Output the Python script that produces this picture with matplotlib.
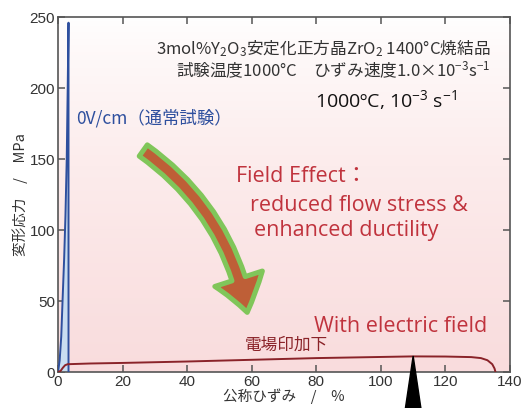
import numpy as np
import matplotlib
matplotlib.use("Agg")
import matplotlib.pyplot as plt
from matplotlib.colors import LinearSegmentedColormap
from matplotlib.patches import FancyArrowPatch, Polygon

# 0 V/cm (normal test): strain %, stress MPa
strain_0v = [0.0, 0.5, 1.0, 1.4, 1.9, 2.3, 2.7, 3.0, 3.25, 3.25]
stress_0v = [0, 8, 25, 50, 80, 110, 150, 200, 246, 0]

# with electric field
strain_ef = [0.0, 0.8, 1.5, 2.2, 3.0, 10, 20, 40, 60, 80, 100, 110, 120, 128, 131, 133, 134.5, 135.2, 135.5]
stress_ef = [0.0, 0.8, 3.0, 4.8, 5.5, 6.0, 6.4, 7.4, 8.6, 9.8, 10.6, 11.0, 10.9, 10.5, 9.8, 8.3, 5.5, 2.5, 0.0]

xticks = [0, 20, 40, 60, 80, 100, 120, 140]
yticks = [0, 50, 100, 150, 200, 250]

jp = ["Noto Sans CJK JP", "DejaVu Sans"]
latin = ["Open Sans", "Noto Sans CJK JP", "DejaVu Sans"]
tickfont = "Liberation Sans"

fig = plt.figure(figsize=(5.26, 4.08), dpi=100)
ax = fig.add_axes([0.1103, 0.0882, 0.8593, 0.8701])

# pink background gradient, white at top
cmap = LinearSegmentedColormap.from_list("bg", ["#ffffff", "#fcecec", "#f9dcdd"])
grad = np.linspace(0, 1, 256).reshape(-1, 1) ** 0.8
ax.imshow(grad, extent=[0, 140, 0, 250], aspect="auto", cmap=cmap, zorder=0,
          origin="upper")
ax.set_xlim(0, 140)
ax.set_ylim(0, 250)

# curves
ax.fill(strain_0v, stress_0v, color="#c9ddf1", zorder=2, lw=0)
ax.plot(strain_0v, stress_0v, color="#2e4f9e", lw=1.4, zorder=3)
ax.plot(strain_ef, stress_ef, color="#8a2329", lw=1.4, zorder=3)

# axes style
for s in ax.spines.values():
    s.set_color("#555555")
    s.set_linewidth(1.2)
ax.set_xticks(xticks)
ax.set_yticks(yticks)
ax.tick_params(direction="in", length=5, width=1.1, color="#555555",
               top=True, right=True, labelsize=11, labelcolor="#333333", pad=2)
for lab in ax.get_xticklabels() + ax.get_yticklabels():
    lab.set_family(tickfont)

ax.set_xlabel("公称ひずみ　/　%", family=jp, fontsize=10.5, color="#333333", labelpad=0)
ax.set_ylabel("変形応力　/　MPa", family=jp, fontsize=10.5, color="#333333", labelpad=1)

# annotations
ax.text(134, 228, r"3mol%$\mathregular{Y_2O_3}$安定化正方晶$\mathregular{ZrO_2}$ 1400°C焼結品",
        family=jp, fontsize=12, color="#333333", ha="right", va="center")
ax.text(134, 212.5, r"試験温度1000°C　ひずみ速度1.0×10$\mathregular{^{-3}}$s$\mathregular{^{-1}}$",
        family=jp, fontsize=12, color="#333333", ha="right", va="center")
ax.text(79.5, 191.5, r"1000ºC, 10$\mathregular{^{-3}}$ s$\mathregular{^{-1}}$",
        family=latin, fontsize=14, color="#111111", ha="left", va="center")
ax.text(5.6, 179, "0V/cm（通常試験）", family=jp, fontsize=12.5, color="#2e4f9e",
        ha="left", va="center")

red = "#c0333d"
ax.text(55.2, 138, "Field Effect：", family=latin, fontsize=15.5, color=red, va="center")
ax.text(59.5, 117.6, "reduced flow stress &", family=latin, fontsize=15.5, color=red, va="center")
ax.text(60.8, 100, "enhanced ductility", family=latin, fontsize=15.5, color=red, va="center")
ax.text(79.4, 32.4, "With electric field", family=latin, fontsize=15.5, color=red, va="center")
ax.text(57.7, 19, "電場印加下", family=jp, fontsize=12, color="#8a2329", va="center")

# curved arrow
arrow = FancyArrowPatch((26.4, 156), (58.6, 42), connectionstyle="arc3,rad=-0.2",
                        arrowstyle="simple,tail_width=1.0,head_width=3.6,head_length=2.5",
                        mutation_scale=10, shrinkA=0, shrinkB=0,
                        fc="#be5f37", ec="#80c65a", lw=3.6, joinstyle="round", zorder=4)
ax.add_patch(arrow)

# black pointer below axes
ax.add_patch(Polygon([[110, 11.3], [107.5, -27], [112.5, -27]], closed=True,
                     color="black", clip_on=False, zorder=5))

fig.savefig("out.png", dpi=100)
